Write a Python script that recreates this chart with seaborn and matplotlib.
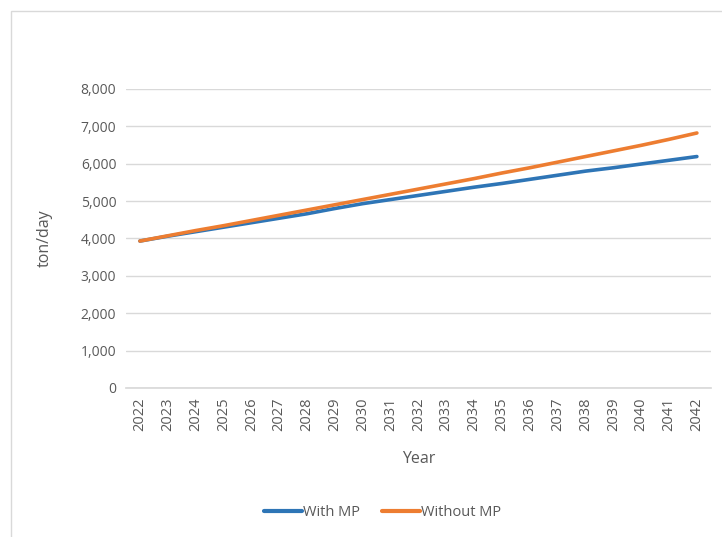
import matplotlib
matplotlib.use("Agg")
import matplotlib.pyplot as plt
import seaborn as sns
import pandas as pd
from matplotlib.patches import Rectangle

years = list(range(2022, 2043))
with_mp = [3930, 4060, 4180, 4300, 4420, 4540, 4660, 4800, 4930, 5040, 5150,
           5260, 5370, 5470, 5580, 5690, 5800, 5890, 5990, 6090, 6190]
without_mp = [3930, 4070, 4210, 4340, 4480, 4620, 4760, 4900, 5040, 5180, 5320,
              5460, 5600, 5750, 5890, 6040, 6190, 6340, 6490, 6650, 6820]
series_names = ["With MP", "Without MP"]
y_ticks = [0, 1000, 2000, 3000, 4000, 5000, 6000, 7000, 8000]

df = pd.DataFrame({"Year": years * 2,
                   "value": with_mp + without_mp,
                   "series": [series_names[0]] * len(years) + [series_names[1]] * len(years)})

sns.set_theme(style="white")
plt.rcParams['font.family'] = ['Open Sans', 'DejaVu Sans']

fig = plt.figure(figsize=(7.22, 5.37), dpi=100)
ax = fig.add_axes([0.1745, 0.2775, 0.810, 0.557])

sns.lineplot(data=df, x="Year", y="value", hue="series",
             palette=["#2E75B6", "#ED7D31"], linewidth=2.6, ax=ax, legend=False)

ax.set_xlim(2021.5, 2042.5)
ax.set_ylim(0, 8000)
ax.set_yticks(y_ticks)
ax.set_yticklabels([f"{v:,}" for v in y_ticks], color="#595959", fontsize=10)
ax.set_xticks(years)
ax.set_xticklabels([str(y) for y in years], rotation=90, color="#595959", fontsize=10.5)
ax.grid(axis="y", color="#D9D9D9", linewidth=1)
ax.set_axisbelow(True)
for s in ["top", "right", "left"]:
    ax.spines[s].set_visible(False)
ax.spines["bottom"].set_color("#D9D9D9")
ax.tick_params(axis="both", length=0, pad=7)
ax.set_xlabel("Year", color="#595959", fontsize=11.5, labelpad=14)
ax.set_ylabel("ton/day", color="#595959", fontsize=11.5, labelpad=20)

handles = [plt.Line2D([], [], color="#2E75B6", linewidth=3),
           plt.Line2D([], [], color="#ED7D31", linewidth=3)]
fig.legend(handles, series_names, loc="center", bbox_to_anchor=(0.53, 0.045),
           ncol=2, frameon=False, fontsize=10.5, handlelength=2.6, handletextpad=0.1,
           columnspacing=1.5, labelcolor="#595959")

fig.patches.append(Rectangle((0.015, -0.01), 1.1, 0.99, transform=fig.transFigure,
                             fill=False, edgecolor="#D9D9D9", linewidth=1))

fig.savefig("out.png", dpi=100)
